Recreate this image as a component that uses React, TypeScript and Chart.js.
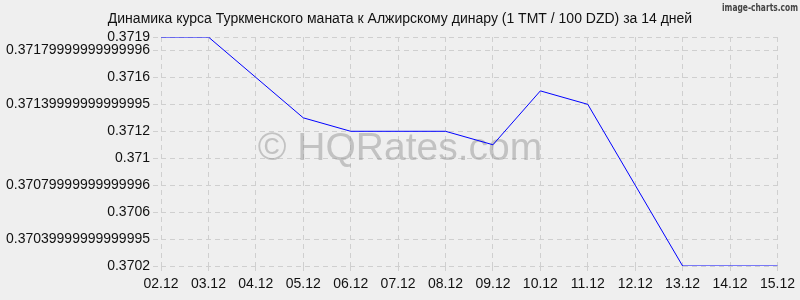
import React, { useEffect, useRef } from "react";
import { Chart, registerables } from "chart.js";

Chart.register(...registerables);

const TITLE = "Динамика курса Туркменского маната к Алжирскому динару (1 TMT / 100 DZD) за 14 дней";
const WATERMARK = "© HQRates.com";
const BRAND = "image-charts.com";

const categories = ["02.12", "03.12", "04.12", "05.12", "06.12", "07.12", "08.12", "09.12", "10.12", "11.12", "12.12", "13.12", "14.12", "15.12"];
const rates = [0.3719, 0.3719, 0.3716, 0.3713, 0.3712, 0.3712, 0.3712, 0.3711, 0.3715, 0.3714, 0.3708, 0.3702, 0.3702, 0.3702];

const yTickValues = [0.3702, 0.3704, 0.3706, 0.3708, 0.371, 0.3712, 0.3714, 0.3716, 0.3718, 0.3719];
const yTickLabels = ["0.3702", "0.37039999999999995", "0.3706", "0.37079999999999996", "0.371", "0.3712", "0.37139999999999995", "0.3716", "0.37179999999999996", "0.3719"];

const FONT = "'Liberation Sans', Arial, sans-serif";
const BG = "#efefef";

export default function App() {
  const ref = useRef<HTMLCanvasElement | null>(null);

  useEffect(() => {
    const canvas = ref.current;
    if (!canvas) return;

    const decor = {
      id: "decor",
      beforeDraw(chart: any) {
        const ctx = chart.ctx;
        ctx.save();
        ctx.fillStyle = BG;
        ctx.fillRect(0, 0, chart.width, chart.height);
        ctx.restore();
      },
      beforeDatasetsDraw(chart: any) {
        const ctx = chart.ctx;
        ctx.save();
        ctx.font = `39px ${FONT}`;
        ctx.fillStyle = "rgba(140,140,140,0.45)";
        ctx.textAlign = "center";
        ctx.textBaseline = "alphabetic";
        ctx.fillText(WATERMARK, 400, 160);
        ctx.restore();
      },
      afterDraw(chart: any) {
        const ctx = chart.ctx;
        ctx.save();
        ctx.font = `14px ${FONT}`;
        ctx.fillStyle = "#111";
        ctx.textAlign = "center";
        ctx.textBaseline = "middle";
        ctx.fillText(TITLE, 400, 19);
        ctx.restore();

        ctx.save();
        ctx.font = `bold 10px 'DejaVu Sans', sans-serif`;
        ctx.fillStyle = "#444";
        ctx.textAlign = "left";
        ctx.textBaseline = "middle";
        const w = ctx.measureText(BRAND).width;
        ctx.translate(722, 8);
        ctx.scale(76 / w, 1);
        ctx.fillText(BRAND, 0, 0);
        ctx.restore();
      },
    };

    const chart = new Chart(canvas, {
      type: "line",
      data: {
        labels: categories,
        datasets: [
          {
            data: rates,
            borderColor: "#0000ff",
            borderWidth: 1,
            pointRadius: 0,
            tension: 0,
            fill: false,
          },
        ],
      },
      options: {
        animation: false,
        responsive: false,
        maintainAspectRatio: false,
        layout: { padding: { top: 37, right: 22, left: 0, bottom: 0 } },
        plugins: {
          legend: { display: false },
          title: { display: false },
          tooltip: { enabled: false },
        },
        scales: {
          x: {
            type: "category",
            offset: false,
            border: { display: false, dash: [5, 4] },
            grid: {
              color: "#cfcfcf",
              tickBorderDash: [5, 4],
              tickLength: 5,
              offset: false,
            },
            ticks: {
              color: "#111",
              font: { family: FONT, size: 14 },
              padding: 5,
              maxRotation: 0,
              autoSkip: false,
            },
            afterFit(scale: any) {
              scale.height = 34;
            },
          },
          y: {
            min: 0.3702,
            max: 0.3719,
            border: { display: false, dash: [5, 4] },
            grid: {
              color: "#cfcfcf",
              tickBorderDash: [5, 4],
              tickLength: 8,
            },
            ticks: {
              color: "#111",
              font: { family: FONT, size: 14 },
              padding: 3,
              callback: (_v: any, i: number) => yTickLabels[i],
            },
            afterBuildTicks(scale: any) {
              scale.ticks = yTickValues.map((v) => ({ value: v }));
            },
            afterFit(scale: any) {
              scale.width = 161;
            },
          },
        },
      },
      plugins: [decor],
    });

    return () => chart.destroy();
  }, []);

  return (
    <div style={{ position: "fixed", left: 0, top: 0, width: 800, height: 300, background: BG }}>
      <canvas ref={ref} width={800} height={300} style={{ display: "block" }} />
    </div>
  );
}
